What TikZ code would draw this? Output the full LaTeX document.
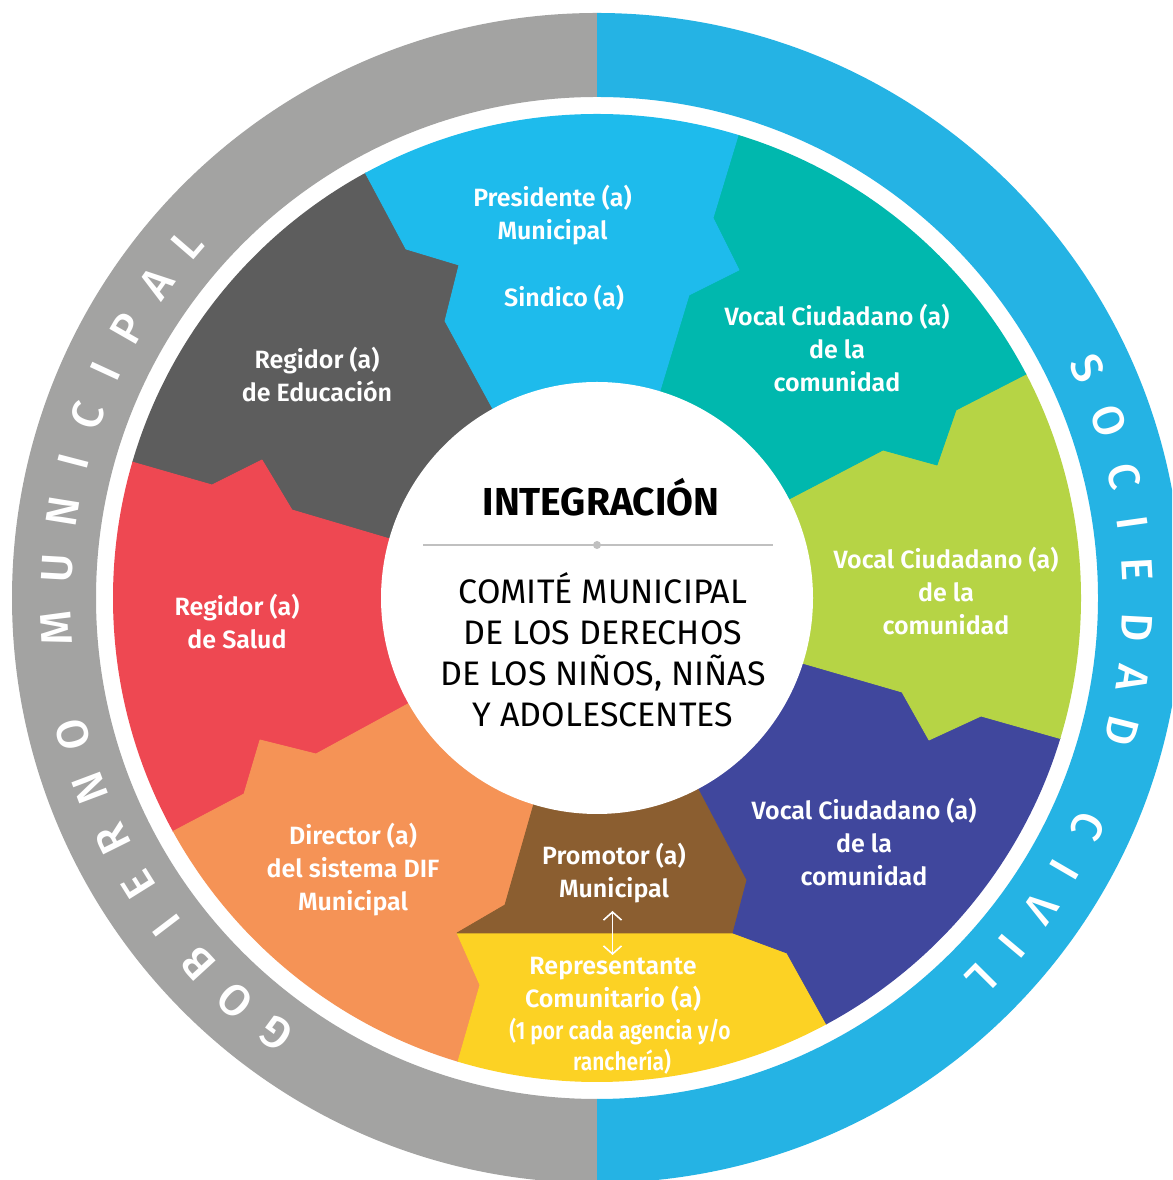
\documentclass[tikz,border=0pt]{standalone}
\usepackage{fontspec}
\setmainfont{Fira Sans}
\IfFontExistsTF{Fira Sans SemiBold}{\newfontfamily\lblfont{Fira Sans SemiBold}}{\newcommand\lblfont{\bfseries}}
\IfFontExistsTF{Fira Sans Medium}{\newfontfamily\medfont{Fira Sans Medium}}{\newcommand\medfont{}}
\usetikzlibrary{calc,arrows.meta}
\definecolor{ringgray}{RGB}{163,163,162}
\definecolor{ringblue}{RGB}{37,179,228}
\definecolor{cdark}{RGB}{93,93,93}
\definecolor{cblue}{RGB}{30,187,236}
\definecolor{cteal}{RGB}{0,184,174}
\definecolor{clime}{RGB}{182,212,69}
\definecolor{cnavy}{RGB}{64,71,157}
\definecolor{cbrown}{RGB}{139,94,48}
\definecolor{cyellow}{RGB}{252,210,36}
\definecolor{corange}{RGB}{245,147,86}
\definecolor{cred}{RGB}{238,72,82}
\definecolor{linegray}{RGB}{192,192,192}
\tikzset{
  sector/.style={fill=#1, draw=#1, line width=0.8pt, line join=round},
  lbl/.style={text=white, align=center, inner sep=0pt, font=\lblfont\fontsize{25}{33}\selectfont},
  ringletter/.style={text=white, inner sep=0pt, font=\medfont\fontsize{44}{44}\selectfont, text height=30pt, text depth=0pt, anchor=center},
}
\begin{document}
\begin{tikzpicture}[x=1pt,y=1pt]
\useasboundingbox (0,0) rectangle (1172,1180);
\fill[white] (0,0) rectangle (1172,1180);
\coordinate (C) at (597,582);
\begin{scope}
\clip (0,0) rectangle (1172,1180);
% outer ring
\fill[ringgray] ($(C)+(90:585)$) arc[start angle=90,end angle=270,radius=585] -- ($(C)+(270:501)$) arc[start angle=270,end angle=90,radius=501] -- cycle;
\fill[ringblue] ($(C)+(-90:585)$) arc[start angle=-90,end angle=90,radius=585] -- ($(C)+(90:501)$) arc[start angle=90,end angle=-90,radius=501] -- cycle;
\end{scope}
% wheel
\begin{scope}
\clip (C) circle[radius=484];
% dark gray
\filldraw[sector=cdark] (C) -- (494,769) -- (445,859) -- (459,915) -- (406,931) -- (367,1004) -- ($(C)!2!(367,1004)$) -- ($(C)!2!(132,718)$) -- (132,718) -- (212,695) -- (262,720) -- (292,670) -- (390,641) -- cycle;
% red
\filldraw[sector=cred] (C) -- (390,641) -- (292,670) -- (262,720) -- (212,695) -- (132,718) -- ($(C)!2!(132,718)$) -- ($(C)!2!(170,347)$) -- (170,347) -- (244,386) -- (260,440) -- (316,426) -- (406,475) -- cycle;
% orange
\filldraw[sector=corange] (C) -- (406,475) -- (316,426) -- (260,440) -- (244,386) -- (170,347) -- ($(C)!2!(170,347)$) -- ($(C)!2!(457,115)$) -- (457,115) -- (480,195) -- (457,247) -- (505,275) -- (533,373) -- cycle;
% yellow
\filldraw[sector=cyellow] (457,247) -- (480,195) -- (457,115) -- ($(C)!2!(457,115)$) -- ($(C)!2!(827,155)$) -- (827,155) -- (787,227) -- (733,247) -- cycle;
% brown
\filldraw[sector=cbrown] (C) -- (533,373) -- (505,275) -- (457,247) -- (733,247) -- (747,300) -- (699,391) -- cycle;
% navy
\filldraw[sector=cnavy] (C) -- (699,391) -- (747,300) -- (733,247) -- (787,227) -- (827,155) -- ($(C)!2!(827,155)$) -- ($(C)!2!(1062,441)$) -- (1062,441) -- (981,464) -- (929,440) -- (902,488) -- (802,517) -- cycle;
% lime
\filldraw[sector=clime] (C) -- (802,517) -- (902,488) -- (929,440) -- (981,464) -- (1062,441) -- ($(C)!2!(1062,441)$) -- ($(C)!2!(1032,809)$) -- (1032,809) -- (956,770) -- (937,715) -- (883,730) -- (791,682) -- cycle;
% teal
\filldraw[sector=cteal] (C) -- (791,682) -- (883,730) -- (937,715) -- (956,770) -- (1032,809) -- ($(C)!2!(1032,809)$) -- ($(C)!2!(737,1041)$) -- (737,1041) -- (713,962) -- (739,910) -- (689,885) -- (659,786) -- cycle;
% blue
\filldraw[sector=cblue] (C) -- (659,786) -- (689,885) -- (739,910) -- (713,962) -- (737,1041) -- ($(C)!2!(737,1041)$) -- ($(C)!2!(367,1004)$) -- (367,1004) -- (406,931) -- (459,915) -- (445,859) -- (494,769) -- cycle;
\end{scope}
% centre disc
\fill[white] (C) circle[radius=216];
% ring lettering
\foreach \ch/\a [count=\i] in {G/233.6,O/228.0,B/222.5,I/217.3,E/212.0,R/206.5,N/200.6,O/194.6,M/183.2,U/176.8,N/170.8,I/165.4,C/160.3,I/155.2,P/150.2,A/144.5,L/139.2}{
  \pgfmathsetmacro\rr{\a-90}
  \node[ringletter, rotate=\rr] (gob\i) at ($(C)+(\a:541)$) {\ch};
}
\foreach \ch/\a [count=\i] in {S/25.1,O/19.1,C/13.0,I/8.0,E/3.0,D/-3.1,A/-8.5,D/-14.2,C/-25.0,I/-30.2,V/-35.0,I/-40.0,L/-44.8}{
  \pgfmathsetmacro\rr{\a-90}
  \node[ringletter, rotate=\rr] (soc\i) at ($(C)+(\a:541)$) {\ch};
}
% centre texts
\node[font=\bfseries\fontsize{39}{39}\selectfont] (integ) at (601,683) {INTEGRACIÓN};
\coordinate (la) at (423,635);
\coordinate (lb) at (773,635);
\draw[linegray, line width=2pt] (la) -- (lb);
\fill[linegray] (597,635) circle[radius=4];
\node[align=center, font=\fontsize{34}{41}\selectfont] (comite) at (603,530) {COMITÉ MUNICIPAL\\DE LOS DERECHOS\\DE LOS NIÑOS, NIÑAS\\Y ADOLESCENTES};
% sector labels
\node[lbl] (pres) at (552.5,964.5) {Presidente (a)\\Municipal};
\node[lbl] (sind) at (564,882) {Sindico (a)};
\node[lbl] (regedu) at (317,805.5) {Regidor (a)\\de Educación};
\node[lbl] (voc1) at (837,832) {Vocal Ciudadano (a)\\de la\\comunidad};
\node[lbl] (voc2) at (946,589) {Vocal Ciudadano (a)\\de la\\comunidad};
\node[lbl] (voc3) at (864,338) {Vocal Ciudadano (a)\\de la\\comunidad};
\node[lbl] (regsal) at (237,558) {Regidor (a)\\de Salud};
\node[lbl] (dir) at (353,310) {Director (a)\\del sistema DIF\\Municipal};
\node[lbl] (prom) at (614,306.5) {Promotor (a)\\Municipal};
\node[lbl] (rep) at (613,196) {Representante\\Comunitario (a)};
\node[lbl] (repa) at (620,148) {\scalebox{0.84}[1]{(1 por cada agencia y/o}};
\node[lbl] (repb) at (622,118) {\scalebox{0.84}[1]{ranchería)}};
% double arrow
\coordinate (aup) at (612.5,269);
\coordinate (adn) at (612.5,225);
\draw[white, line width=1.6pt, {Straight Barb[length=8pt,width=18pt]}-{Straight Barb[length=8pt,width=18pt]}] (aup) -- (adn);
\end{tikzpicture}
\end{document}
